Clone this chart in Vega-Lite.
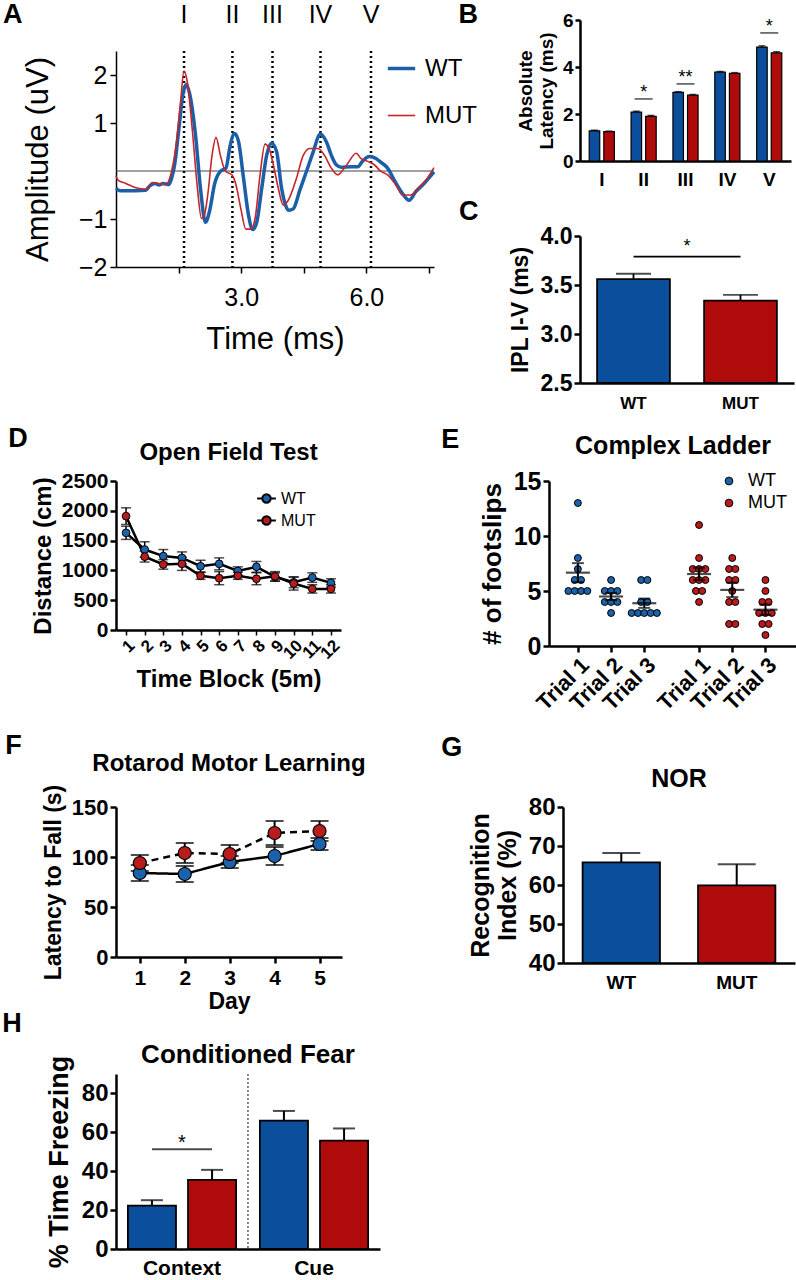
{
  "$schema": "https://vega.github.io/schema/vega-lite/v6.json",
  "padding": {"left": 2, "top": 0, "right": 0, "bottom": 0},
  "background": "white",
  "config": {
    "font": "Liberation Sans",
    "view": {"stroke": null},
    "axis": {"grid": false, "labelOverlap": false, "domainColor": "black", "domainWidth": 2.5, "tickColor": "black", "tickWidth": 2.5, "tickSize": 6, "labelColor": "black", "titleColor": "black", "labelFontWeight": "bold", "titleFontWeight": "bold", "labelFont": "Liberation Sans", "titleFont": "Liberation Sans"},
    "title": {"color": "black", "font": "Liberation Sans", "fontWeight": "bold"},
    "legend": {"labelFont": "Liberation Sans", "labelColor": "black"},
    "text": {"font": "Liberation Sans", "color": "black"}
  },
  "spacing": 14,
  "resolve": {"scale": {"color": "independent", "fill": "independent", "strokeWidth": "independent", "strokeDash": "independent", "xOffset": "independent"}, "legend": {"color": "independent", "fill": "independent", "strokeWidth": "independent", "strokeDash": "independent"}},
  "vconcat": [
    {
      "spacing": -19,
      "resolve": {"scale": {"color": "independent", "fill": "independent", "strokeWidth": "independent", "strokeDash": "independent", "xOffset": "independent"}, "legend": {"color": "independent", "fill": "independent", "strokeWidth": "independent", "strokeDash": "independent"}},
      "hconcat": [
        {
          "spacing": 21,
          "resolve": {"scale": {"color": "independent", "fill": "independent", "strokeWidth": "independent", "strokeDash": "independent", "xOffset": "independent"}, "legend": {"color": "independent", "fill": "independent", "strokeWidth": "independent", "strokeDash": "independent"}},
          "vconcat": [
            {
              "width": 318,
              "height": 1,
              "layer": [
                {"data": {"values": [{"wave": "I", "t": 1.63}, {"wave": "II", "t": 2.79}, {"wave": "III", "t": 3.75}, {"wave": "IV", "t": 4.9}, {"wave": "V", "t": 6.11}]}, "mark": {"type": "text", "fontSize": 25, "baseline": "middle", "dy": -6}, "encoding": {"x": {"field": "t", "type": "quantitative", "scale": {"domain": [0, 7.62], "nice": false, "zero": false}, "axis": null}, "text": {"field": "wave"}}},
                {"data": {"values": [{"lab": "A"}]}, "mark": {"type": "text", "fontSize": 27, "fontWeight": "bold", "baseline": "middle", "align": "left", "dy": -6}, "encoding": {"x": {"datum": -2.71}, "text": {"field": "lab"}}}
              ]
            },
            {
              "width": 318,
              "height": 216,
              "layer": [
                {"data": {"values": [{"amp": 0}]}, "mark": {"type": "rule", "color": "#444444", "strokeWidth": 1.2}, "encoding": {"y": {"field": "amp", "type": "quantitative"}}},
                {"data": {"values": [{"wave": "I", "t": 1.63}, {"wave": "II", "t": 2.79}, {"wave": "III", "t": 3.75}, {"wave": "IV", "t": 4.9}, {"wave": "V", "t": 6.11}]}, "mark": {"type": "rule", "strokeDash": [2, 3], "strokeWidth": 2.5, "color": "black"}, "encoding": {"x": {"field": "t", "type": "quantitative"}}},
                {
                  "data": {"values": [
                    {"g": "WT", "t": 0, "amp": -0.36}, {"g": "WT", "t": 0.095, "amp": -0.41}, {"g": "WT", "t": 0.476, "amp": -0.41}, {"g": "WT", "t": 0.714, "amp": -0.4}, {"g": "WT", "t": 0.81, "amp": -0.31}, {"g": "WT", "t": 0.937, "amp": -0.26}, {"g": "WT", "t": 1.03, "amp": -0.29}, {"g": "WT", "t": 1.127, "amp": -0.26}, {"g": "WT", "t": 1.27, "amp": -0.28}, {"g": "WT", "t": 1.333, "amp": -0.15}, {"g": "WT", "t": 1.405, "amp": 0.13}, {"g": "WT", "t": 1.508, "amp": 0.89}, {"g": "WT", "t": 1.603, "amp": 1.59}, {"g": "WT", "t": 1.683, "amp": 1.8}, {"g": "WT", "t": 1.762, "amp": 1.62}, {"g": "WT", "t": 1.905, "amp": 0.75}, {"g": "WT", "t": 2.024, "amp": -0.36}, {"g": "WT", "t": 2.143, "amp": -1.07}, {"g": "WT", "t": 2.238, "amp": -0.85}, {"g": "WT", "t": 2.365, "amp": -0.26}, {"g": "WT", "t": 2.5, "amp": -0.01}, {"g": "WT", "t": 2.635, "amp": 0.06}, {"g": "WT", "t": 2.738, "amp": 0.54}, {"g": "WT", "t": 2.841, "amp": 0.78}, {"g": "WT", "t": 2.937, "amp": 0.61}, {"g": "WT", "t": 3.056, "amp": -0.15}, {"g": "WT", "t": 3.175, "amp": -0.92}, {"g": "WT", "t": 3.278, "amp": -1.22}, {"g": "WT", "t": 3.373, "amp": -1.07}, {"g": "WT", "t": 3.492, "amp": -0.36}, {"g": "WT", "t": 3.611, "amp": 0.33}, {"g": "WT", "t": 3.73, "amp": 0.58}, {"g": "WT", "t": 3.849, "amp": 0.4}, {"g": "WT", "t": 3.968, "amp": -0.36}, {"g": "WT", "t": 4.063, "amp": -0.71}, {"g": "WT", "t": 4.143, "amp": -0.82}, {"g": "WT", "t": 4.246, "amp": -0.79}, {"g": "WT", "t": 4.405, "amp": -0.4}, {"g": "WT", "t": 4.563, "amp": -0.01}, {"g": "WT", "t": 4.722, "amp": 0.39}, {"g": "WT", "t": 4.897, "amp": 0.77}, {"g": "WT", "t": 5.04, "amp": 0.61}, {"g": "WT", "t": 5.159, "amp": 0.33}, {"g": "WT", "t": 5.278, "amp": 0.13}, {"g": "WT", "t": 5.397, "amp": 0.08}, {"g": "WT", "t": 5.635, "amp": 0.09}, {"g": "WT", "t": 5.794, "amp": 0.09}, {"g": "WT", "t": 5.913, "amp": 0.21}, {"g": "WT", "t": 6.071, "amp": 0.3}, {"g": "WT", "t": 6.23, "amp": 0.26}, {"g": "WT", "t": 6.349, "amp": 0.18}, {"g": "WT", "t": 6.508, "amp": 0.06}, {"g": "WT", "t": 6.667, "amp": -0.19}, {"g": "WT", "t": 6.865, "amp": -0.47}, {"g": "WT", "t": 7.024, "amp": -0.61}, {"g": "WT", "t": 7.183, "amp": -0.43}, {"g": "WT", "t": 7.381, "amp": -0.26}, {"g": "WT", "t": 7.54, "amp": -0.1}, {"g": "WT", "t": 7.62, "amp": -0.02},
                    {"g": "MUT", "t": 0, "amp": -0.1}, {"g": "MUT", "t": 0.048, "amp": -0.19}, {"g": "MUT", "t": 0.238, "amp": -0.26}, {"g": "MUT", "t": 0.476, "amp": -0.35}, {"g": "MUT", "t": 0.714, "amp": -0.38}, {"g": "MUT", "t": 0.873, "amp": -0.24}, {"g": "MUT", "t": 1.03, "amp": -0.26}, {"g": "MUT", "t": 1.19, "amp": -0.28}, {"g": "MUT", "t": 1.31, "amp": -0.08}, {"g": "MUT", "t": 1.429, "amp": 0.47}, {"g": "MUT", "t": 1.548, "amp": 1.45}, {"g": "MUT", "t": 1.627, "amp": 2.08}, {"g": "MUT", "t": 1.706, "amp": 1.87}, {"g": "MUT", "t": 1.825, "amp": 0.89}, {"g": "MUT", "t": 1.944, "amp": -0.29}, {"g": "MUT", "t": 2.048, "amp": -0.99}, {"g": "MUT", "t": 2.119, "amp": -0.92}, {"g": "MUT", "t": 2.198, "amp": -0.5}, {"g": "MUT", "t": 2.302, "amp": 0.33}, {"g": "MUT", "t": 2.397, "amp": 0.7}, {"g": "MUT", "t": 2.5, "amp": 0.33}, {"g": "MUT", "t": 2.619, "amp": 0}, {"g": "MUT", "t": 2.778, "amp": -0.08}, {"g": "MUT", "t": 2.873, "amp": -0.28}, {"g": "MUT", "t": 2.992, "amp": -0.79}, {"g": "MUT", "t": 3.111, "amp": -1.21}, {"g": "MUT", "t": 3.23, "amp": -1.21}, {"g": "MUT", "t": 3.333, "amp": -0.99}, {"g": "MUT", "t": 3.452, "amp": -0.08}, {"g": "MUT", "t": 3.571, "amp": 0.56}, {"g": "MUT", "t": 3.667, "amp": 0.47}, {"g": "MUT", "t": 3.77, "amp": 0.13}, {"g": "MUT", "t": 3.889, "amp": -0.36}, {"g": "MUT", "t": 4.008, "amp": -0.71}, {"g": "MUT", "t": 4.127, "amp": -0.61}, {"g": "MUT", "t": 4.325, "amp": -0.15}, {"g": "MUT", "t": 4.484, "amp": 0.32}, {"g": "MUT", "t": 4.643, "amp": 0.47}, {"g": "MUT", "t": 4.841, "amp": 0.47}, {"g": "MUT", "t": 5.0, "amp": 0.32}, {"g": "MUT", "t": 5.159, "amp": 0.06}, {"g": "MUT", "t": 5.317, "amp": -0.08}, {"g": "MUT", "t": 5.437, "amp": 0.02}, {"g": "MUT", "t": 5.556, "amp": 0.16}, {"g": "MUT", "t": 5.754, "amp": 0.37}, {"g": "MUT", "t": 5.873, "amp": 0.26}, {"g": "MUT", "t": 6.032, "amp": 0.2}, {"g": "MUT", "t": 6.19, "amp": 0.13}, {"g": "MUT", "t": 6.349, "amp": -0.01}, {"g": "MUT", "t": 6.508, "amp": -0.08}, {"g": "MUT", "t": 6.706, "amp": -0.29}, {"g": "MUT", "t": 6.865, "amp": -0.5}, {"g": "MUT", "t": 7.063, "amp": -0.5}, {"g": "MUT", "t": 7.222, "amp": -0.38}, {"g": "MUT", "t": 7.46, "amp": -0.15}, {"g": "MUT", "t": 7.62, "amp": 0.07}
                  ]},
                  "mark": {"type": "line", "interpolate": "monotone"},
                  "encoding": {
                    "x": {"field": "t", "type": "quantitative", "scale": {"domain": [0, 7.62], "nice": false, "zero": false}, "axis": {"values": [1.5, 3, 4.5, 6, 7.5], "labelExpr": "datum.value == 3 || datum.value == 6 ? format(datum.value, '.1f') : ''", "title": "Time (ms)", "titleFontSize": 31, "titleFontWeight": "normal", "labelFontSize": 25, "labelFontWeight": "normal", "domainWidth": 1.5, "tickWidth": 1.5, "tickSize": 6, "labelPadding": 12, "titlePadding": 14}},
                    "y": {"field": "amp", "type": "quantitative", "scale": {"domain": [-2, 2.5], "nice": false}, "axis": {"values": [-2, -1, 1, 2], "labelOverlap": false, "title": "Amplitude (uV)", "titleFontSize": 31, "titleFontWeight": "normal", "labelFontSize": 25, "labelFontWeight": "normal", "domainWidth": 1.5, "tickWidth": 1.5, "tickSize": 6, "labelPadding": 3, "titlePadding": 24}},
                    "color": {"field": "g", "type": "nominal", "scale": {"domain": ["WT", "MUT"], "range": ["#1b5fa8", "#c4262b"]}, "legend": {"title": null, "orient": "none", "legendX": 270, "legendY": 2, "labelFontSize": 24, "symbolType": "stroke", "symbolSize": 750, "rowPadding": 20, "labelOffset": 8}},
                    "strokeWidth": {"field": "g", "type": "nominal", "scale": {"domain": ["WT", "MUT"], "range": [3.5, 1.6]}, "legend": {"title": null, "orient": "none", "legendX": 270, "legendY": 2, "labelFontSize": 24, "symbolType": "stroke", "symbolSize": 750, "rowPadding": 20, "labelOffset": 8}}
                  }
                }
              ]
            }
          ]
        },
        {
          "spacing": 9,
          "resolve": {"scale": {"color": "independent", "fill": "independent", "strokeWidth": "independent", "strokeDash": "independent", "xOffset": "independent"}, "legend": {"color": "independent", "fill": "independent", "strokeWidth": "independent", "strokeDash": "independent"}},
          "vconcat": [
            {
              "title": {"text": "B", "anchor": "start", "frame": "bounds", "fontSize": 27, "offset": -18, "dx": -58},
              "width": 211,
              "height": 141,
              "data": {"values": [
                {"wave": "I", "g": "WT", "lat": 1.28, "sem": 0.03}, {"wave": "I", "g": "MUT", "lat": 1.25, "sem": 0.02},
                {"wave": "II", "g": "WT", "lat": 2.08, "sem": 0.04}, {"wave": "II", "g": "MUT", "lat": 1.9, "sem": 0.04},
                {"wave": "III", "g": "WT", "lat": 2.92, "sem": 0.03}, {"wave": "III", "g": "MUT", "lat": 2.8, "sem": 0.03},
                {"wave": "IV", "g": "WT", "lat": 3.78, "sem": 0.03}, {"wave": "IV", "g": "MUT", "lat": 3.73, "sem": 0.03},
                {"wave": "V", "g": "WT", "lat": 4.85, "sem": 0.05}, {"wave": "V", "g": "MUT", "lat": 4.6, "sem": 0.05}
              ]},
              "transform": [{"calculate": "datum.lat + datum.sem", "as": "hi"}],
              "encoding": {
                "x": {"field": "wave", "type": "nominal", "scale": {"domain": ["I", "II", "III", "IV", "V"], "paddingInner": 0.4, "paddingOuter": 0.22}, "axis": {"title": null, "labelAngle": 0, "ticks": false, "labelFontSize": 19, "labelPadding": 9}}
              },
              "layer": [
                {"mark": {"type": "bar", "stroke": "black", "strokeWidth": 1.2},
                 "encoding": {
                   "xOffset": {"field": "g", "scale": {"domain": ["WT", "MUT"], "paddingInner": 0.28}},
                   "y": {"field": "lat", "type": "quantitative", "scale": {"domain": [0, 6], "nice": false}, "axis": {"values": [0, 2, 4, 6], "labelOverlap": false, "title": ["Absolute", "Latency (ms)"], "titleFontSize": 19, "labelFontSize": 19, "titlePadding": 6, "tickSize": 5}},
                   "fill": {"field": "g", "type": "nominal", "scale": {"domain": ["WT", "MUT"], "range": ["#0b4f9c", "#b00b0b"]}, "legend": null}
                 }},
                {"mark": {"type": "rule", "color": "black", "strokeWidth": 1.5}, "encoding": {"xOffset": {"field": "g"}, "y": {"field": "lat", "type": "quantitative"}, "y2": {"field": "hi"}}},
                {"mark": {"type": "tick", "orient": "horizontal", "size": 7, "thickness": 1.5, "color": "black"}, "encoding": {"xOffset": {"field": "g"}, "y": {"field": "hi", "type": "quantitative"}}},
                {"data": {"values": [{"wave": "II", "lat": 2.64, "star": "*"}, {"wave": "III", "lat": 3.28, "star": "**"}, {"wave": "V", "lat": 5.45, "star": "*"}]}, "mark": {"type": "tick", "orient": "horizontal", "size": 18, "thickness": 1.5, "color": "black"}, "encoding": {"y": {"field": "lat", "type": "quantitative"}}},
                {"data": {"values": [{"wave": "II", "lat": 2.64, "star": "*"}, {"wave": "III", "lat": 3.28, "star": "**"}, {"wave": "V", "lat": 5.45, "star": "*"}]}, "mark": {"type": "text", "fontSize": 18, "baseline": "middle", "dy": -6}, "encoding": {"y": {"field": "lat", "type": "quantitative"}, "text": {"field": "star"}}}
              ]
            },
            {
              "title": {"text": "C", "anchor": "start", "frame": "bounds", "fontSize": 27, "offset": -1, "dx": -50},
              "width": 214,
              "height": 147,
              "data": {"values": [{"g": "WT", "ipl": 3.56, "sem": 0.055}, {"g": "MUT", "ipl": 3.34, "sem": 0.06}]},
              "transform": [{"calculate": "datum.ipl + datum.sem", "as": "hi"}],
              "encoding": {
                "x": {"field": "g", "type": "nominal", "scale": {"domain": ["WT", "MUT"], "paddingInner": 0.32, "paddingOuter": 0.16}, "axis": {"title": null, "labelAngle": 0, "ticks": false, "labelFontSize": 17, "labelPadding": 12}}
              },
              "layer": [
                {"mark": {"type": "bar", "stroke": "black", "strokeWidth": 1.8},
                 "encoding": {
                   "y": {"field": "ipl", "type": "quantitative", "scale": {"domain": [2.5, 4.0], "nice": false, "zero": false}, "axis": {"values": [2.5, 3, 3.5, 4], "labelOverlap": false, "format": ".1f", "title": "IPL I-V (ms)", "titleFontSize": 23, "labelFontSize": 23, "titlePadding": 8}},
                   "y2": {"datum": 2.5},
                   "fill": {"field": "g", "type": "nominal", "scale": {"domain": ["WT", "MUT"], "range": ["#0b4f9c", "#b00b0b"]}, "legend": null}
                 }},
                {"mark": {"type": "rule", "color": "black", "strokeWidth": 1.8}, "encoding": {"y": {"field": "ipl", "type": "quantitative"}, "y2": {"field": "hi"}}},
                {"mark": {"type": "tick", "orient": "horizontal", "size": 35, "thickness": 1.8, "color": "black"}, "encoding": {"y": {"field": "hi", "type": "quantitative"}}},
                {"data": {"values": [{"g": "WT", "g2": "MUT", "ipl": 3.79}]}, "mark": {"type": "rule", "strokeWidth": 1.8, "color": "black"}, "encoding": {"x2": {"field": "g2"}, "y": {"field": "ipl", "type": "quantitative"}}},
                {"data": {"values": [{"g": "WT", "ipl": 3.79}]}, "mark": {"type": "text", "text": "*", "fontSize": 18, "baseline": "middle", "dy": -10}, "encoding": {"x": {"field": "g", "type": "nominal", "bandPosition": 1.237}, "y": {"field": "ipl", "type": "quantitative"}}}
              ]
            }
          ]
        }
      ]
    },
    {
      "spacing": 18,
      "resolve": {"scale": {"color": "independent", "fill": "independent", "strokeWidth": "independent", "strokeDash": "independent", "xOffset": "independent"}, "legend": {"color": "independent", "fill": "independent", "strokeWidth": "independent", "strokeDash": "independent"}},
      "vconcat": [
        {
          "spacing": 98,
          "resolve": {"scale": {"color": "independent", "fill": "independent", "strokeWidth": "independent", "strokeDash": "independent", "xOffset": "independent"}, "legend": {"color": "independent", "fill": "independent", "strokeWidth": "independent", "strokeDash": "independent"}},
          "hconcat": [
            {
              "title": {"text": "D", "anchor": "start", "frame": "bounds", "fontSize": 27, "offset": -12, "dx": -23},
              "resolve": {"scale": {"color": "independent", "fill": "independent", "strokeWidth": "independent", "strokeDash": "independent", "xOffset": "independent"}, "legend": {"color": "independent", "fill": "independent", "strokeWidth": "independent", "strokeDash": "independent"}},
              "vconcat": [
                {
                  "title": {"text": "Open Field Test", "fontSize": 24, "anchor": "middle", "frame": "group", "offset": 5},
                  "width": 225,
                  "height": 149,
                  "data": {"values": [
                    {"block": 1, "g": "WT", "dist": 1630, "sem": 110}, {"block": 2, "g": "WT", "dist": 1350, "sem": 130}, {"block": 3, "g": "WT", "dist": 1240, "sem": 110}, {"block": 4, "g": "WT", "dist": 1210, "sem": 100}, {"block": 5, "g": "WT", "dist": 1070, "sem": 100}, {"block": 6, "g": "WT", "dist": 1110, "sem": 100}, {"block": 7, "g": "WT", "dist": 990, "sem": 70}, {"block": 8, "g": "WT", "dist": 1060, "sem": 90}, {"block": 9, "g": "WT", "dist": 890, "sem": 70}, {"block": 10, "g": "WT", "dist": 800, "sem": 90}, {"block": 11, "g": "WT", "dist": 880, "sem": 80}, {"block": 12, "g": "WT", "dist": 790, "sem": 70},
                    {"block": 1, "g": "MUT", "dist": 1910, "sem": 140}, {"block": 2, "g": "MUT", "dist": 1230, "sem": 90}, {"block": 3, "g": "MUT", "dist": 1100, "sem": 80}, {"block": 4, "g": "MUT", "dist": 1110, "sem": 110}, {"block": 5, "g": "MUT", "dist": 910, "sem": 60}, {"block": 6, "g": "MUT", "dist": 870, "sem": 110}, {"block": 7, "g": "MUT", "dist": 910, "sem": 60}, {"block": 8, "g": "MUT", "dist": 860, "sem": 100}, {"block": 9, "g": "MUT", "dist": 900, "sem": 80}, {"block": 10, "g": "MUT", "dist": 780, "sem": 110}, {"block": 11, "g": "MUT", "dist": 690, "sem": 70}, {"block": 12, "g": "MUT", "dist": 690, "sem": 70}
                  ]},
                  "transform": [{"calculate": "datum.dist - datum.sem", "as": "lo"}, {"calculate": "datum.dist + datum.sem", "as": "hi"}],
                  "encoding": {
                    "x": {"field": "block", "type": "quantitative", "scale": {"domain": [0.46, 12.54], "nice": false, "zero": false}, "axis": {"values": [1, 2, 3, 4, 5, 6, 7, 8, 9, 10, 11, 12], "labelOverlap": false, "labelAngle": -45, "labelFontSize": 17, "title": "Time Block (5m)", "titleFontSize": 24, "tickSize": 5, "tickWidth": 1.5, "labelPadding": 2, "titlePadding": 6}}
                  },
                  "layer": [
                    {"mark": {"type": "rule", "color": "black", "strokeWidth": 1.5}, "encoding": {"y": {"field": "lo", "type": "quantitative", "scale": {"domain": [0, 2500], "nice": false}, "axis": {"values": [0, 500, 1000, 1500, 2000, 2500], "tickCount": 6, "labelOverlap": false, "format": "d", "title": "Distance (cm)", "titleFontSize": 24, "labelFontSize": 21, "titlePadding": 6, "labelPadding": 2}}, "y2": {"field": "hi"}}},
                    {"mark": {"type": "tick", "orient": "horizontal", "size": 10, "thickness": 1.5, "color": "black"}, "encoding": {"y": {"field": "lo", "type": "quantitative", "axis": {"values": [0, 500, 1000, 1500, 2000, 2500], "tickCount": 6, "labelOverlap": false, "format": "d", "title": "Distance (cm)", "titleFontSize": 24, "labelFontSize": 21, "titlePadding": 6, "labelPadding": 2}}}},
                    {"mark": {"type": "tick", "orient": "horizontal", "size": 10, "thickness": 1.5, "color": "black"}, "encoding": {"y": {"field": "hi", "type": "quantitative", "axis": {"values": [0, 500, 1000, 1500, 2000, 2500], "tickCount": 6, "labelOverlap": false, "format": "d", "title": "Distance (cm)", "titleFontSize": 24, "labelFontSize": 21, "titlePadding": 6, "labelPadding": 2}}}},
                    {"mark": {"type": "line", "color": "black", "strokeWidth": 2.5}, "encoding": {"y": {"field": "dist", "type": "quantitative", "axis": {"values": [0, 500, 1000, 1500, 2000, 2500], "tickCount": 6, "labelOverlap": false, "format": "d", "title": "Distance (cm)", "titleFontSize": 24, "labelFontSize": 21, "titlePadding": 6, "labelPadding": 2}}, "detail": {"field": "g"}}},
                    {"mark": {"type": "point", "filled": true, "size": 60, "stroke": "black", "strokeWidth": 1, "opacity": 1},
                     "encoding": {
                       "y": {"field": "dist", "type": "quantitative", "axis": {"values": [0, 500, 1000, 1500, 2000, 2500], "tickCount": 6, "labelOverlap": false, "format": "d", "title": "Distance (cm)", "titleFontSize": 24, "labelFontSize": 21, "titlePadding": 6, "labelPadding": 2}},
                       "fill": {"field": "g", "type": "nominal", "scale": {"domain": ["WT", "MUT"], "range": ["#1c62ab", "#b81c1c"]}, "legend": {"title": null, "orient": "none", "legendX": 140, "legendY": 7, "labelFontSize": 16, "labelFontWeight": "normal", "symbolType": "M-1,0H-0.45M0.45,0H1M0.45,0A0.45,0.45,0,1,1,-0.45,0A0.45,0.45,0,1,1,0.45,0Z", "symbolSize": 350, "symbolStrokeColor": "black", "symbolStrokeWidth": 2, "rowPadding": 3, "labelOffset": 4}}
                     }}
                  ]
                }
              ]
            },
            {
              "title": {"text": "E", "anchor": "start", "frame": "bounds", "fontSize": 27, "offset": -20, "dx": -38},
              "resolve": {"scale": {"color": "independent", "fill": "independent", "strokeWidth": "independent", "strokeDash": "independent", "xOffset": "independent"}, "legend": {"color": "independent", "fill": "independent", "strokeWidth": "independent", "strokeDash": "independent"}},
              "vconcat": [
                {
                  "title": {"text": "Complex Ladder", "fontSize": 25, "anchor": "middle", "frame": "group", "offset": 10},
                  "width": 248,
                  "height": 165,
                  "data": {"values": [
                    {"g": "WT", "trial": 1, "n": 13}, {"g": "WT", "trial": 1, "n": 8}, {"g": "WT", "trial": 1, "n": 7}, {"g": "WT", "trial": 1, "n": 6}, {"g": "WT", "trial": 1, "n": 6}, {"g": "WT", "trial": 1, "n": 5}, {"g": "WT", "trial": 1, "n": 5}, {"g": "WT", "trial": 1, "n": 5}, {"g": "WT", "trial": 1, "n": 5},
                    {"g": "WT", "trial": 2, "n": 6}, {"g": "WT", "trial": 2, "n": 5}, {"g": "WT", "trial": 2, "n": 5}, {"g": "WT", "trial": 2, "n": 5}, {"g": "WT", "trial": 2, "n": 4}, {"g": "WT", "trial": 2, "n": 4}, {"g": "WT", "trial": 2, "n": 4}, {"g": "WT", "trial": 2, "n": 3},
                    {"g": "WT", "trial": 3, "n": 6}, {"g": "WT", "trial": 3, "n": 6}, {"g": "WT", "trial": 3, "n": 4}, {"g": "WT", "trial": 3, "n": 4}, {"g": "WT", "trial": 3, "n": 3}, {"g": "WT", "trial": 3, "n": 3}, {"g": "WT", "trial": 3, "n": 3}, {"g": "WT", "trial": 3, "n": 3}, {"g": "WT", "trial": 3, "n": 3},
                    {"g": "MUT", "trial": 1, "n": 11}, {"g": "MUT", "trial": 1, "n": 8}, {"g": "MUT", "trial": 1, "n": 7}, {"g": "MUT", "trial": 1, "n": 7}, {"g": "MUT", "trial": 1, "n": 7}, {"g": "MUT", "trial": 1, "n": 6}, {"g": "MUT", "trial": 1, "n": 6}, {"g": "MUT", "trial": 1, "n": 6}, {"g": "MUT", "trial": 1, "n": 5}, {"g": "MUT", "trial": 1, "n": 5}, {"g": "MUT", "trial": 1, "n": 4},
                    {"g": "MUT", "trial": 2, "n": 8}, {"g": "MUT", "trial": 2, "n": 7}, {"g": "MUT", "trial": 2, "n": 7}, {"g": "MUT", "trial": 2, "n": 6}, {"g": "MUT", "trial": 2, "n": 6}, {"g": "MUT", "trial": 2, "n": 5}, {"g": "MUT", "trial": 2, "n": 4}, {"g": "MUT", "trial": 2, "n": 4}, {"g": "MUT", "trial": 2, "n": 2}, {"g": "MUT", "trial": 2, "n": 2},
                    {"g": "MUT", "trial": 3, "n": 6}, {"g": "MUT", "trial": 3, "n": 5}, {"g": "MUT", "trial": 3, "n": 4}, {"g": "MUT", "trial": 3, "n": 4}, {"g": "MUT", "trial": 3, "n": 3}, {"g": "MUT", "trial": 3, "n": 3}, {"g": "MUT", "trial": 3, "n": 3}, {"g": "MUT", "trial": 3, "n": 2}, {"g": "MUT", "trial": 3, "n": 2}, {"g": "MUT", "trial": 3, "n": 1}
                  ]},
                  "transform": [{"calculate": "datum.trial + (datum.g == 'MUT' ? 3.65 : 0)", "as": "pos"}],
                  "layer": [
                    {
                      "transform": [
                        {"window": [{"op": "row_number", "as": "k"}], "groupby": ["g", "trial", "n"]},
                        {"joinaggregate": [{"op": "count", "as": "c"}], "groupby": ["g", "trial", "n"]},
                        {"calculate": "datum.pos + (datum.k - (datum.c + 1) / 2) * 0.19", "as": "xj"}
                      ],
                      "mark": {"type": "circle", "size": 48, "stroke": "black", "strokeWidth": 1, "opacity": 1},
                      "encoding": {
                        "x": {"field": "xj", "type": "quantitative", "scale": {"domain": [0.13, 7.6], "nice": false, "zero": false}, "axis": {"values": [1, 2, 3, 4.65, 5.65, 6.65], "labelOverlap": false, "labelExpr": "'Trial ' + (datum.value < 4 ? datum.value : round(datum.value - 3.65))", "labelAngle": -45, "labelFontSize": 22, "title": null, "tickSize": 6, "labelPadding": 2}},
                        "y": {"field": "n", "type": "quantitative", "scale": {"domain": [0, 15], "nice": false}, "axis": {"values": [0, 5, 10, 15], "labelOverlap": false, "title": "# of footslips", "titleFontSize": 26, "labelFontSize": 25, "titlePadding": 8, "labelPadding": 2}},
                        "fill": {"field": "g", "type": "nominal", "scale": {"domain": ["WT", "MUT"], "range": ["#1c62ab", "#b81c1c"]}, "legend": {"title": null, "orient": "none", "legendX": 171, "legendY": -9, "labelFontSize": 18, "labelFontWeight": "normal", "symbolType": "circle", "symbolSize": 60, "symbolStrokeColor": "black", "symbolStrokeWidth": 1, "rowPadding": 4, "labelOffset": 10}}
                      }
                    },
                    {
                      "transform": [
                        {"aggregate": [{"op": "mean", "field": "n", "as": "m"}, {"op": "stderr", "field": "n", "as": "se"}], "groupby": ["g", "trial", "pos"]},
                        {"calculate": "datum.m - datum.se", "as": "lo"},
                        {"calculate": "datum.m + datum.se", "as": "hi"}
                      ],
                      "layer": [
                        {"mark": {"type": "rule", "color": "black", "strokeWidth": 2}, "encoding": {"x": {"field": "pos", "type": "quantitative"}, "y": {"field": "lo", "type": "quantitative"}, "y2": {"field": "hi"}}},
                        {"mark": {"type": "tick", "orient": "horizontal", "size": 24, "thickness": 2.2, "color": "black"}, "encoding": {"x": {"field": "pos", "type": "quantitative"}, "y": {"field": "m", "type": "quantitative"}}},
                        {"mark": {"type": "tick", "orient": "horizontal", "size": 12, "thickness": 2, "color": "black"}, "encoding": {"x": {"field": "pos", "type": "quantitative"}, "y": {"field": "lo", "type": "quantitative"}}},
                        {"mark": {"type": "tick", "orient": "horizontal", "size": 12, "thickness": 2, "color": "black"}, "encoding": {"x": {"field": "pos", "type": "quantitative"}, "y": {"field": "hi", "type": "quantitative"}}}
                      ]
                    }
                  ]
                }
              ]
            }
          ]
        },
        {
          "spacing": -3,
          "resolve": {"scale": {"color": "independent", "fill": "independent", "strokeWidth": "independent", "strokeDash": "independent", "xOffset": "independent"}, "legend": {"color": "independent", "fill": "independent", "strokeWidth": "independent", "strokeDash": "independent"}},
          "vconcat": [
            {
              "spacing": 75,
              "resolve": {"scale": {"color": "independent", "fill": "independent", "strokeWidth": "independent", "strokeDash": "independent", "xOffset": "independent"}, "legend": {"color": "independent", "fill": "independent", "strokeWidth": "independent", "strokeDash": "independent"}},
              "hconcat": [
                {
                  "title": {"text": "F", "anchor": "start", "frame": "bounds", "fontSize": 27, "offset": -8, "dx": -37},
                  "resolve": {"scale": {"color": "independent", "fill": "independent", "strokeWidth": "independent", "strokeDash": "independent", "xOffset": "independent"}, "legend": {"color": "independent", "fill": "independent", "strokeWidth": "independent", "strokeDash": "independent"}},
                  "vconcat": [
                    {
                      "title": {"text": "Rotarod Motor Learning", "fontSize": 24, "anchor": "middle", "frame": "group", "offset": 8},
                      "width": 226,
                      "height": 150,
                      "data": {"values": [
                        {"day": 1, "g": "WT", "lat": 84, "sem": 8}, {"day": 2, "g": "WT", "lat": 83, "sem": 8}, {"day": 3, "g": "WT", "lat": 95, "sem": 6}, {"day": 4, "g": "WT", "lat": 101, "sem": 9}, {"day": 5, "g": "WT", "lat": 113, "sem": 6},
                        {"day": 1, "g": "MUT", "lat": 94, "sem": 8}, {"day": 2, "g": "MUT", "lat": 104, "sem": 10}, {"day": 3, "g": "MUT", "lat": 103, "sem": 9}, {"day": 4, "g": "MUT", "lat": 124, "sem": 12}, {"day": 5, "g": "MUT", "lat": 126, "sem": 10}
                      ]},
                      "transform": [{"calculate": "datum.lat - datum.sem", "as": "lo"}, {"calculate": "datum.lat + datum.sem", "as": "hi"}],
                      "encoding": {
                        "x": {"field": "day", "type": "quantitative", "scale": {"domain": [0.47, 5.5], "nice": false, "zero": false}, "axis": {"values": [1, 2, 3, 4, 5], "labelFontSize": 21, "title": "Day", "titleFontSize": 23, "labelPadding": 4, "titlePadding": 2}}
                      },
                      "layer": [
                        {"mark": {"type": "rule", "color": "black", "strokeWidth": 2}, "encoding": {"y": {"field": "lo", "type": "quantitative"}, "y2": {"field": "hi"}}},
                        {"mark": {"type": "tick", "orient": "horizontal", "size": 18, "thickness": 2, "color": "black"}, "encoding": {"y": {"field": "lo", "type": "quantitative"}}},
                        {"mark": {"type": "tick", "orient": "horizontal", "size": 18, "thickness": 2, "color": "black"}, "encoding": {"y": {"field": "hi", "type": "quantitative"}}},
                        {"mark": {"type": "line", "color": "black", "strokeWidth": 2.5}, "encoding": {"y": {"field": "lat", "type": "quantitative"}, "detail": {"field": "g"}, "strokeDash": {"field": "g", "type": "nominal", "scale": {"domain": ["WT", "MUT"], "range": [[1, 0], [7, 5]]}, "legend": null}}},
                        {"mark": {"type": "point", "filled": true, "size": 170, "stroke": "black", "strokeWidth": 1.2, "opacity": 1},
                         "encoding": {
                           "y": {"field": "lat", "type": "quantitative", "scale": {"domain": [0, 150], "nice": false}, "axis": {"values": [0, 50, 100, 150], "labelOverlap": false, "title": "Latency to Fall (s)", "titleFontSize": 23, "labelFontSize": 22, "titlePadding": 6, "labelPadding": 2}},
                           "fill": {"field": "g", "type": "nominal", "scale": {"domain": ["WT", "MUT"], "range": ["#1c62ab", "#b81c1c"]}, "legend": null}
                         }}
                      ]
                    }
                  ]
                },
                {
                  "title": {"text": "G", "anchor": "start", "frame": "bounds", "fontSize": 27, "offset": 5, "dx": -27},
                  "resolve": {"scale": {"color": "independent", "fill": "independent", "strokeWidth": "independent", "strokeDash": "independent", "xOffset": "independent"}, "legend": {"color": "independent", "fill": "independent", "strokeWidth": "independent", "strokeDash": "independent"}},
                  "vconcat": [
                    {
                      "title": {"text": "NOR", "fontSize": 25, "anchor": "middle", "frame": "group", "offset": 3},
                      "width": 232,
                      "height": 156,
                      "data": {"values": [{"g": "WT", "ri": 65.8, "sem": 2.4}, {"g": "MUT", "ri": 59.9, "sem": 5.4}]},
                      "transform": [{"calculate": "datum.ri + datum.sem", "as": "hi"}],
                      "encoding": {
                        "x": {"field": "g", "type": "nominal", "scale": {"domain": ["WT", "MUT"], "paddingInner": 0.33, "paddingOuter": 0.17}, "axis": {"title": null, "labelAngle": 0, "ticks": false, "labelFontSize": 19, "labelPadding": 10}}
                      },
                      "layer": [
                        {"mark": {"type": "bar", "stroke": "black", "strokeWidth": 1.8},
                         "encoding": {
                           "y": {"field": "ri", "type": "quantitative", "scale": {"domain": [40, 80], "nice": false, "zero": false}, "axis": {"values": [40, 50, 60, 70, 80], "tickCount": 5, "labelOverlap": false, "title": ["Recognition", "Index (%)"], "titleFontSize": 25, "labelFontSize": 24, "titlePadding": 8, "labelPadding": 2}},
                           "y2": {"datum": 40},
                           "fill": {"field": "g", "type": "nominal", "scale": {"domain": ["WT", "MUT"], "range": ["#0b4f9c", "#b00b0b"]}, "legend": null}
                         }},
                        {"mark": {"type": "rule", "color": "black", "strokeWidth": 2}, "encoding": {"y": {"field": "ri", "type": "quantitative", "axis": {"values": [40, 50, 60, 70, 80], "tickCount": 5, "labelOverlap": false, "title": ["Recognition", "Index (%)"], "titleFontSize": 25, "labelFontSize": 24, "titlePadding": 8, "labelPadding": 2}}, "y2": {"field": "hi"}}},
                        {"mark": {"type": "tick", "orient": "horizontal", "size": 38, "thickness": 2, "color": "black"}, "encoding": {"y": {"field": "hi", "type": "quantitative", "axis": {"values": [40, 50, 60, 70, 80], "tickCount": 5, "labelOverlap": false, "title": ["Recognition", "Index (%)"], "titleFontSize": 25, "labelFontSize": 24, "titlePadding": 8, "labelPadding": 2}}}}
                      ]
                    }
                  ]
                }
              ]
            },
            {
              "title": {"text": "H", "anchor": "start", "frame": "bounds", "fontSize": 27, "offset": 4, "dx": -43},
              "resolve": {"scale": {"color": "independent", "fill": "independent", "strokeWidth": "independent", "strokeDash": "independent", "xOffset": "independent"}, "legend": {"color": "independent", "fill": "independent", "strokeWidth": "independent", "strokeDash": "independent"}},
              "vconcat": [
                {
                  "title": {"text": "Conditioned Fear", "fontSize": 26, "anchor": "middle", "frame": "group", "offset": -13},
                  "width": 264,
                  "height": 175,
                  "data": {"values": [
                    {"cond": "Context", "g": "WT", "v": 22.3, "sem": 2.8}, {"cond": "Context", "g": "MUT", "v": 35.5, "sem": 5.2},
                    {"cond": "Cue", "g": "WT", "v": 66, "sem": 5}, {"cond": "Cue", "g": "MUT", "v": 55.7, "sem": 6.3}
                  ]},
                  "transform": [{"calculate": "datum.v + datum.sem", "as": "hi"}],
                  "encoding": {
                    "x": {"field": "cond", "type": "nominal", "scale": {"domain": ["Context", "Cue"], "paddingInner": 0.18, "paddingOuter": 0.09}, "axis": {"title": null, "labelAngle": 0, "ticks": false, "labelFontSize": 21, "labelPadding": 8}}
                  },
                  "layer": [
                    {"mark": {"type": "bar", "stroke": "black", "strokeWidth": 1.8},
                     "encoding": {
                       "xOffset": {"field": "g", "scale": {"domain": ["WT", "MUT"], "paddingInner": 0.2}},
                       "y": {"field": "v", "type": "quantitative", "scale": {"domain": [0, 90], "nice": false}, "axis": {"values": [0, 20, 40, 60, 80], "labelOverlap": false, "title": "% Time Freezing", "titleFontSize": 27, "labelFontSize": 24, "titlePadding": 8, "labelPadding": 2}},
                       "fill": {"field": "g", "type": "nominal", "scale": {"domain": ["WT", "MUT"], "range": ["#0b4f9c", "#b00b0b"]}, "legend": null}
                     }},
                    {"data": {"values": [{"cond": "Cue"}]}, "mark": {"type": "rule", "strokeDash": [2, 2], "strokeWidth": 1.2, "color": "#333333"}, "encoding": {"x": {"field": "cond", "type": "nominal", "bandPosition": -0.11}}},
                    {"mark": {"type": "rule", "color": "black", "strokeWidth": 2}, "encoding": {"xOffset": {"field": "g"}, "y": {"field": "v", "type": "quantitative"}, "y2": {"field": "hi"}}},
                    {"mark": {"type": "tick", "orient": "horizontal", "size": 22, "thickness": 2, "color": "black"}, "encoding": {"xOffset": {"field": "g"}, "y": {"field": "hi", "type": "quantitative"}}},
                    {"data": {"values": [{"cond": "Context", "v": 51.3}]}, "mark": {"type": "tick", "orient": "horizontal", "size": 60, "thickness": 2, "color": "black"}, "encoding": {"y": {"field": "v", "type": "quantitative"}}},
                    {"data": {"values": [{"cond": "Context", "v": 51.3}]}, "mark": {"type": "text", "text": "*", "fontSize": 20, "baseline": "middle", "dy": -6}, "encoding": {"y": {"field": "v", "type": "quantitative"}}}
                  ]
                }
              ]
            }
          ]
        }
      ]
    }
  ]
}
